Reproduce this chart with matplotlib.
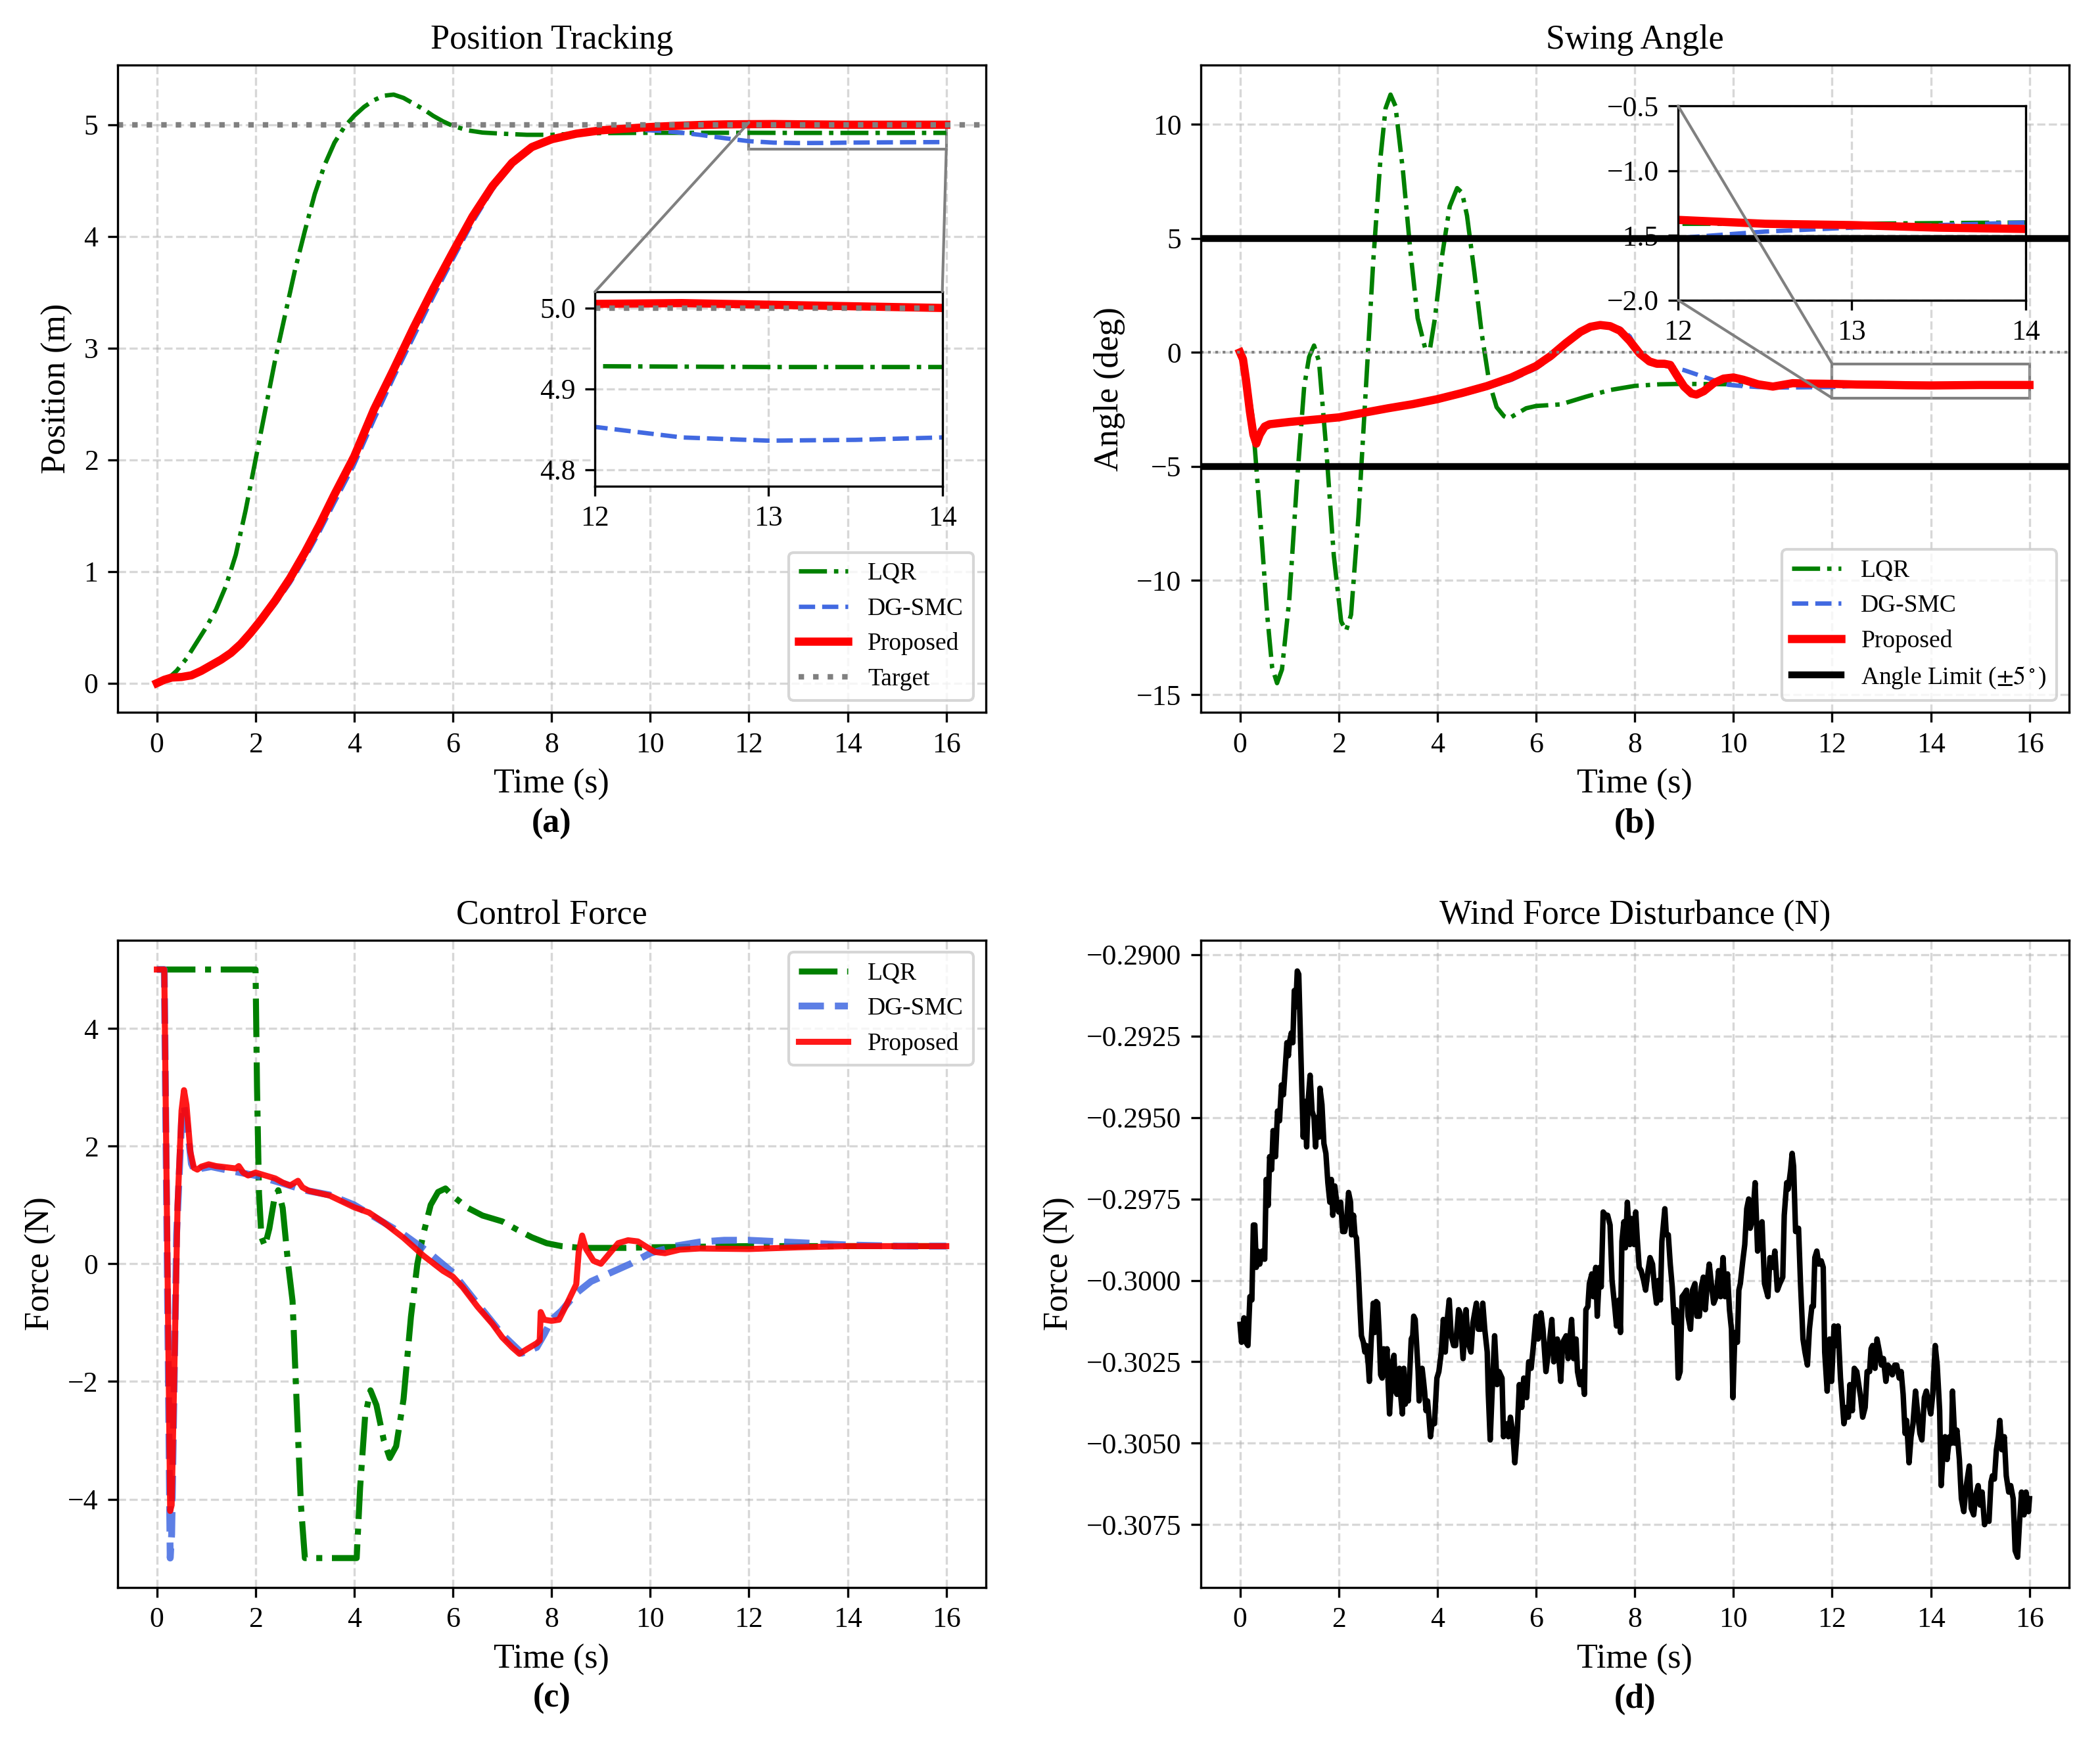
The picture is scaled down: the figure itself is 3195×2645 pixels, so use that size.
import matplotlib
matplotlib.use("Agg")
import matplotlib.pyplot as plt
from matplotlib.patches import Rectangle, ConnectionPatch
from matplotlib.ticker import FuncFormatter

plt.rcParams['font.family'] = ['Liberation Serif', 'DejaVu Serif']
plt.rcParams['mathtext.fontset'] = 'stix'
plt.rcParams['axes.unicode_minus'] = True

# ---------------- (a) Position ----------------
target = 5.0
t_pos_lqr = [0, 0.2, 0.4, 0.6, 0.8, 1.0, 1.2, 1.4, 1.6, 1.8, 2.0, 2.2, 2.4, 2.6, 2.8, 3.0, 3.2, 3.4, 3.6, 3.8,
             4.0, 4.2, 4.4, 4.6, 4.8, 5.0, 5.2, 5.4, 5.6, 5.8, 6.0, 6.3, 6.6, 7.0, 7.5, 8.0, 8.5, 9.0, 10.0, 11.0,
             12.0, 13.0, 14.0, 15.0, 16.0]
pos_lqr = [0, 0.03, 0.11, 0.22, 0.36, 0.5, 0.66, 0.87, 1.15, 1.55, 2.0, 2.45, 2.9, 3.3, 3.7, 4.05, 4.38, 4.64, 4.84, 4.98,
           5.08, 5.16, 5.22, 5.26, 5.27, 5.24, 5.19, 5.14, 5.08, 5.03, 4.99, 4.95, 4.93, 4.92, 4.91, 4.91, 4.92, 4.925, 4.928, 4.928,
           4.928, 4.927, 4.927, 4.927, 4.927]
t_pos = [0, 0.15, 0.3, 0.5, 0.7, 0.9, 1.1, 1.3, 1.5, 1.7, 1.9, 2.1, 2.4, 2.7, 3.0, 3.3, 3.6, 4.0, 4.4, 4.8, 5.2,
         5.6, 6.0, 6.4, 6.8, 7.2, 7.6, 8.0, 8.5, 9.0, 9.5, 10.0, 10.5, 11.0, 11.5, 12.0, 12.5, 13.0, 13.5, 14.0, 15.0, 16.0]
pos_prop = [0, 0.03, 0.05, 0.055, 0.07, 0.11, 0.16, 0.21, 0.27, 0.35, 0.45, 0.56, 0.74, 0.94, 1.17, 1.42, 1.69, 2.03, 2.45, 2.81, 3.18,
            3.53, 3.86, 4.18, 4.45, 4.66, 4.8, 4.87, 4.92, 4.95, 4.965, 4.98, 4.99, 4.998, 5.003, 5.005, 5.006, 5.004, 5.002, 5.0, 5.0, 5.0]
pos_dgsmc = [0, 0.03, 0.05, 0.055, 0.07, 0.11, 0.16, 0.21, 0.27, 0.34, 0.43, 0.54, 0.71, 0.9, 1.12, 1.36, 1.62, 1.96, 2.36, 2.74, 3.1,
             3.46, 3.8, 4.13, 4.42, 4.64, 4.79, 4.87, 4.92, 4.945, 4.955, 4.95, 4.935, 4.91, 4.88, 4.853, 4.84, 4.836, 4.837, 4.84, 4.843, 4.845]

# ---------------- (b) Swing angle ----------------
angle_limit = 5.0
t_ang_lqr = [0, 0.1, 0.25, 0.4, 0.55, 0.65, 0.75, 0.85, 1.0, 1.15, 1.3, 1.4, 1.5, 1.6, 1.75, 1.9, 2.05, 2.15, 2.25, 2.4,
             2.55, 2.7, 2.85, 2.95, 3.05, 3.15, 3.3, 3.45, 3.6, 3.75, 3.85, 3.95, 4.1, 4.25, 4.4, 4.5, 4.6, 4.75, 4.9, 5.05,
             5.2, 5.35, 5.45, 5.6, 5.8, 6.0, 6.5, 7.0, 7.5, 8.0, 8.5, 9.0, 10.0, 11.0, 12.0, 13.0, 14.0, 15.0, 16.0]
ang_lqr = [0, -0.6, -2.8, -7.0, -11.5, -13.8, -14.5, -13.9, -10.8, -5.8, -1.5, -0.2, 0.3, -0.4, -4.3, -8.9, -11.8, -12.2, -11.5, -7.2,
           -1.6, 4.0, 8.6, 10.7, 11.3, 10.8, 8.0, 4.5, 1.5, 0.2, 0.15, 1.5, 4.3, 6.4, 7.2, 7.0, 6.0, 3.5, 0.8, -1.3,
           -2.4, -2.8, -2.9, -2.7, -2.45, -2.35, -2.28, -1.95, -1.65, -1.47, -1.4, -1.38, -1.4, -1.42, -1.41, -1.41, -1.40, -1.40, -1.40]
t_ang_prop = [0, 0.06, 0.12, 0.2, 0.27, 0.33, 0.4, 0.5, 0.6, 0.8, 1.0, 1.5, 2.0, 2.5, 3.0, 3.5, 4.0, 4.5, 5.0, 5.5,
              6.0, 6.3, 6.6, 6.9, 7.1, 7.3, 7.5, 7.7, 7.9, 8.1, 8.3, 8.45, 8.6, 8.72, 8.85, 9.0, 9.15, 9.25, 9.4, 9.6,
              9.8, 10.0, 10.2, 10.5, 10.8, 11.2, 11.6, 12.0, 12.5, 13.0, 13.5, 14.0, 15.0, 16.0]
ang_prop = [0, -0.3, -1.2, -2.6, -3.6, -4.0, -3.6, -3.25, -3.15, -3.1, -3.05, -2.95, -2.85, -2.65, -2.45, -2.27, -2.05, -1.78, -1.48, -1.1,
            -0.6, -0.15, 0.4, 0.9, 1.12, 1.2, 1.15, 0.95, 0.5, -0.05, -0.4, -0.5, -0.5, -0.55, -1.0, -1.5, -1.8, -1.85, -1.7, -1.35,
            -1.15, -1.1, -1.2, -1.4, -1.5, -1.35, -1.37, -1.38, -1.41, -1.42, -1.44, -1.45, -1.43, -1.43]
t_ang_dg = [0, 0.06, 0.12, 0.2, 0.27, 0.33, 0.4, 0.5, 0.6, 0.8, 1.0, 1.5, 2.0, 2.5, 3.0, 3.5, 4.0, 4.5, 5.0, 5.5,
            6.0, 6.3, 6.6, 6.9, 7.1, 7.3, 7.5, 7.7, 7.9, 8.1, 8.3, 8.5, 8.7, 9.0, 9.3, 9.6, 9.9, 10.2, 10.5, 11.0,
            11.5, 12.0, 12.5, 13.0, 13.5, 14.0, 15.0, 16.0]
ang_dg = [0, -0.3, -1.2, -2.5, -3.4, -3.7, -3.4, -3.2, -3.15, -3.1, -3.05, -2.95, -2.85, -2.67, -2.48, -2.3, -2.1, -1.85, -1.55, -1.2,
          -0.7, -0.25, 0.3, 0.85, 1.1, 1.2, 1.18, 1.05, 0.7, -0.1, -0.4, -0.55, -0.62, -0.78, -1.0, -1.22, -1.42, -1.48, -1.52, -1.54,
          -1.53, -1.52, -1.47, -1.44, -1.42, -1.40, -1.40, -1.40]

# ---------------- (c) Control force ----------------
t_f_lqr = [0, 2.0, 2.03, 2.07, 2.12, 2.19, 2.28, 2.38, 2.46, 2.55, 2.66, 2.75, 2.83, 2.92, 3.0, 4.05, 4.12, 4.22, 4.33, 4.45,
           4.6, 4.72, 4.85, 5.0, 5.15, 5.28, 5.4, 5.55, 5.7, 5.85, 6.0, 6.3, 6.6, 7.0, 7.3, 7.6, 7.9, 8.2, 8.6, 9.0,
           9.5, 10.0, 11.0, 12.0, 14.0, 16.0]
f_lqr = [5.0, 5.0, 3.0, 1.2, 0.45, 0.3, 0.6, 1.1, 1.25, 0.95, 0.0, -0.63, -2.3, -4.1, -5.0, -5.0, -3.8, -2.6, -2.15, -2.4,
         -3.0, -3.3, -3.1, -2.3, -0.9, 0.0, 0.5, 1.0, 1.22, 1.28, 1.15, 0.95, 0.82, 0.72, 0.58, 0.45, 0.35, 0.3, 0.27, 0.27,
         0.27, 0.28, 0.29, 0.3, 0.3, 0.3]
t_f_dg = [0, 0.15, 0.27, 0.30, 0.4, 0.5, 0.55, 0.62, 0.7, 0.78, 0.9, 1.1, 1.5, 2.0, 2.5, 3.0, 3.5, 4.0, 4.5, 5.0,
          5.5, 6.0, 6.5, 7.0, 7.4, 7.7, 7.85, 8.0, 8.2, 8.5, 8.8, 9.2, 9.6, 10.0, 10.5, 11.0, 11.5, 12.0, 13.0, 14.0,
          15.0, 16.0]
f_dg = [5.0, 5.0, -5.0, -4.6, 0.5, 2.4, 2.7, 2.3, 1.7, 1.55, 1.62, 1.65, 1.58, 1.5, 1.38, 1.25, 1.17, 1.0, 0.75, 0.5,
        0.2, -0.15, -0.68, -1.2, -1.52, -1.42, -1.2, -0.95, -0.8, -0.5, -0.3, -0.15, 0.0, 0.18, 0.3, 0.37, 0.4, 0.4, 0.36, 0.32,
        0.3, 0.3]
t_f_prop = [0, 0.15, 0.27, 0.30, 0.42, 0.5, 0.55, 0.6, 0.68, 0.75, 0.82, 0.9, 1.05, 1.2, 1.4, 1.6, 1.66, 1.75, 1.85, 2.0,
            2.2, 2.4, 2.55, 2.7, 2.86, 2.95, 3.08, 3.5, 4.0, 4.3, 4.6, 5.0, 5.4, 5.8, 6.0, 6.2, 6.5, 6.8, 7.0, 7.2,
            7.35, 7.5, 7.7, 7.76, 7.78, 7.85, 8.0, 8.15, 8.3, 8.5, 8.55, 8.62, 8.7, 8.85, 9.0, 9.15, 9.35, 9.55, 9.75, 9.9,
            10.1, 10.3, 10.6, 11.0, 12.0, 13.0, 14.0, 16.0]
f_prop = [5.0, 5.0, -4.2, -4.1, 1.0, 2.6, 2.95, 2.7, 1.9, 1.63, 1.6, 1.65, 1.69, 1.66, 1.64, 1.62, 1.66, 1.55, 1.5, 1.55,
          1.5, 1.45, 1.38, 1.33, 1.41, 1.3, 1.24, 1.16, 0.96, 0.87, 0.7, 0.44, 0.14, -0.12, -0.22, -0.4, -0.73, -1.02, -1.25, -1.42,
          -1.53, -1.45, -1.35, -1.3, -0.82, -0.95, -0.97, -0.95, -0.7, -0.35, 0.2, 0.48, 0.25, 0.05, 0.0, 0.15, 0.35, 0.4, 0.38, 0.3,
          0.2, 0.18, 0.24, 0.26, 0.25, 0.28, 0.3, 0.3]

# ---------------- (d) Wind force disturbance ----------------
t_wind = [
    0.00, 0.03, 0.08, 0.12, 0.16, 0.20, 0.24, 0.27, 0.30, 0.33, 0.36, 0.40, 0.45, 0.50, 0.53, 0.57, 0.60, 0.64, 0.67, 0.72,
    0.76, 0.80, 0.84, 0.88, 0.91, 0.95, 0.98, 1.00, 1.04, 1.07, 1.10, 1.13, 1.16, 1.19, 1.22, 1.25, 1.28, 1.31, 1.35, 1.38,
    1.42, 1.46, 1.50, 1.53, 1.56, 1.60, 1.62, 1.66, 1.70, 1.74, 1.78, 1.82, 1.85, 1.88, 1.92, 1.96, 2.00, 2.04, 2.08, 2.12,
    2.16, 2.20, 2.24, 2.26, 2.30, 2.33, 2.36, 2.40, 2.43, 2.46, 2.50, 2.53, 2.56, 2.60, 2.62, 2.66, 2.70, 2.73, 2.76, 2.79,
    2.82, 2.85, 2.88, 2.91, 2.94, 2.98, 3.00, 3.03, 3.06, 3.09, 3.12, 3.15, 3.18, 3.21, 3.23, 3.26, 3.29, 3.32, 3.35, 3.38,
    3.41, 3.44, 3.47, 3.50, 3.52, 3.55, 3.58, 3.61, 3.63, 3.66, 3.69, 3.72, 3.74, 3.77, 3.80, 3.83, 3.86, 3.89,
    3.94, 3.99, 4.03, 4.08, 4.12, 4.16, 4.20, 4.24, 4.28, 4.33, 4.37, 4.43, 4.46, 4.52, 4.58, 4.62, 4.68, 4.72, 4.79, 4.83,
    4.88, 4.92, 4.96, 5.01, 5.03, 5.07, 5.11, 5.16, 5.21, 5.25, 5.31, 5.34, 5.40, 5.44, 5.48, 5.53, 5.57, 5.62, 5.66, 5.71,
    5.75, 5.81, 5.85, 5.90, 5.94, 6.00, 6.04, 6.10, 6.14, 6.20, 6.25, 6.32, 6.36, 6.43, 6.50, 6.54, 6.61, 6.65, 6.72, 6.76,
    6.81, 6.84, 6.89, 6.93, 6.98, 7.01, 7.05, 7.08, 7.13, 7.16, 7.21, 7.24, 7.29, 7.32, 7.36, 7.41, 7.45, 7.50, 7.54, 7.60,
    7.63, 7.68, 7.71, 7.74, 7.78, 7.81, 7.85, 7.90, 7.94, 7.99,
    8.02, 8.05, 8.09, 8.13, 8.18, 8.22, 8.27, 8.31, 8.36, 8.40, 8.44, 8.48, 8.52, 8.55, 8.61, 8.64, 8.68, 8.72, 8.76, 8.80,
    8.84, 8.88, 8.92, 8.96, 9.01, 9.05, 9.08, 9.13, 9.17, 9.22, 9.26, 9.31, 9.35, 9.39, 9.43, 9.48, 9.51, 9.56, 9.60, 9.65,
    9.70, 9.74, 9.79, 9.83, 9.88, 9.92, 9.96, 9.99, 10.03, 10.08, 10.11, 10.14, 10.19, 10.23, 10.27, 10.31, 10.34, 10.39, 10.44, 10.49,
    10.53, 10.58, 10.63, 10.70, 10.74, 10.80, 10.84, 10.89, 10.94, 11.00, 11.03, 11.08, 11.11, 11.16, 11.19, 11.22, 11.26, 11.32, 11.36, 11.41,
    11.45, 11.50, 11.54, 11.59, 11.62, 11.65, 11.69, 11.73, 11.78, 11.82, 11.85, 11.90,
    11.95, 11.99, 12.04, 12.08, 12.12, 12.17, 12.21, 12.24, 12.29, 12.33, 12.36, 12.41, 12.45, 12.50, 12.54, 12.58, 12.62, 12.67, 12.71, 12.76,
    12.79, 12.82, 12.87, 12.91, 12.96, 13.00, 13.04, 13.09, 13.13, 13.18, 13.22, 13.27, 13.31, 13.36, 13.40, 13.44, 13.48, 13.51, 13.56, 13.60,
    13.64, 13.69, 13.73, 13.78, 13.82, 13.87, 13.91, 13.96, 14.00, 14.04, 14.09, 14.13, 14.18, 14.21, 14.24, 14.29, 14.33, 14.38, 14.42, 14.44,
    14.49, 14.53, 14.58, 14.62, 14.67, 14.71, 14.78, 14.82, 14.87, 14.91, 14.96, 15.00, 15.04, 15.09, 15.13, 15.18, 15.22, 15.25, 15.29, 15.33,
    15.37, 15.40, 15.44, 15.49, 15.53, 15.58, 15.62, 15.67, 15.71, 15.76, 15.80, 15.84, 15.89, 15.93, 15.98, 16.00]
f_wind = [
    -0.30135, -0.3019, -0.30115, -0.3019, -0.3020, -0.3005, -0.3006, -0.2983, -0.2983, -0.2996, -0.2991, -0.2995, -0.2991, -0.29935, -0.2969, -0.2977, -0.2962, -0.2966, -0.2954, -0.2962,
    -0.2948, -0.2951, -0.2940, -0.2943, -0.2936, -0.2927, -0.2931, -0.2927, -0.2924, -0.2927, -0.2911, -0.2916, -0.2905, -0.2906, -0.2923, -0.2940, -0.2956, -0.2945, -0.2959, -0.2945,
    -0.2937, -0.2948, -0.2950, -0.2959, -0.2950, -0.2956, -0.2941, -0.2946, -0.2958, -0.2961, -0.2970, -0.2976, -0.2969, -0.2980, -0.2971, -0.2976, -0.2979, -0.2976, -0.2985, -0.2985,
    -0.2982, -0.2973, -0.2976, -0.2986, -0.2980, -0.2986, -0.2987, -0.2998, -0.3008, -0.3017, -0.3019, -0.3022, -0.3020, -0.3026, -0.3031, -0.3018, -0.3007, -0.3016, -0.30065, -0.3007,
    -0.3016, -0.3029, -0.3030, -0.3021, -0.3029, -0.3021, -0.3031, -0.3041, -0.3033, -0.3025, -0.3023, -0.3034, -0.3035, -0.3029, -0.3027, -0.3036, -0.3041, -0.3027, -0.3038, -0.3032,
    -0.3037, -0.3028, -0.3018, -0.3017, -0.3011, -0.3012, -0.3020, -0.3028, -0.3037, -0.3028, -0.3027, -0.3031, -0.3034, -0.3040, -0.3037, -0.3042, -0.3048, -0.3044,
    -0.3044, -0.3030, -0.3028, -0.3022, -0.3012, -0.3022, -0.3012, -0.3006, -0.3017, -0.3020, -0.3020, -0.3009, -0.3010, -0.3024, -0.3009, -0.3019, -0.3022, -0.3013, -0.3007, -0.3015,
    -0.3015, -0.3007, -0.3015, -0.3022, -0.3034, -0.3049, -0.3034, -0.3017, -0.3032, -0.3028, -0.3030, -0.3048, -0.3044, -0.3048, -0.3042, -0.3047, -0.3056, -0.3046, -0.3032, -0.3039,
    -0.3030, -0.3036, -0.3025, -0.3027, -0.3021, -0.3011, -0.3018, -0.3010, -0.3015, -0.3028, -0.3022, -0.3012, -0.3025, -0.3018, -0.3031, -0.3019, -0.3017, -0.3024, -0.3012, -0.3024,
    -0.3018, -0.3028, -0.3032, -0.3028, -0.3035, -0.3009, -0.3008, -0.3001, -0.2998, -0.3005, -0.2996, -0.3011, -0.2996, -0.3002, -0.2979, -0.2980, -0.2980, -0.2983, -0.3000, -0.3009,
    -0.3014, -0.3006, -0.3016, -0.2988, -0.2982, -0.2990, -0.2976, -0.2989, -0.2981, -0.2989,
    -0.2979, -0.2987, -0.2996, -0.2997, -0.3000, -0.3003, -0.2997, -0.2993, -0.2995, -0.3002, -0.3007, -0.3000, -0.3006, -0.2988, -0.2978, -0.2986, -0.2986, -0.2995, -0.3002, -0.3013,
    -0.3009, -0.3030, -0.3028, -0.3005, -0.3004, -0.3003, -0.3011, -0.3015, -0.3003, -0.3001, -0.3011, -0.3011, -0.3002, -0.2999, -0.3009, -0.2999, -0.2995, -0.3002, -0.3007, -0.3005,
    -0.2997, -0.3005, -0.2993, -0.3005, -0.2998, -0.3009, -0.3015, -0.3036, -0.3016, -0.3019, -0.3003, -0.3001, -0.2994, -0.2989, -0.2978, -0.2975, -0.2984, -0.2981, -0.2970, -0.2991,
    -0.2984, -0.2982, -0.3001, -0.3005, -0.2993, -0.2996, -0.2991, -0.3003, -0.3001, -0.2999, -0.2980, -0.2970, -0.2972, -0.2966, -0.2961, -0.2965, -0.2985, -0.2984, -0.3001, -0.3018,
    -0.3022, -0.3026, -0.3015, -0.3008, -0.3008, -0.2993, -0.2991, -0.2995, -0.2994, -0.2996, -0.3022, -0.3034,
    -0.3018, -0.3031, -0.3014, -0.3020, -0.3014, -0.3030, -0.3038, -0.3044, -0.3039, -0.3042, -0.3032, -0.3040, -0.3027, -0.3028, -0.3032, -0.3036, -0.3042, -0.3039, -0.3028, -0.3028,
    -0.3021, -0.3020, -0.3027, -0.3018, -0.3022, -0.3026, -0.3024, -0.3031, -0.3026, -0.3027, -0.3029, -0.3026, -0.3026, -0.3030, -0.3028, -0.3035, -0.3047, -0.3043, -0.3056, -0.3048,
    -0.3044, -0.3034, -0.3040, -0.3047, -0.3049, -0.3036, -0.3034, -0.3038, -0.3041, -0.3035, -0.3020, -0.3026, -0.3040, -0.3063, -0.3055, -0.3048, -0.3055, -0.3048, -0.3050, -0.3034,
    -0.3050, -0.3046, -0.3055, -0.3067, -0.3071, -0.3064, -0.3057, -0.3070, -0.3072, -0.3066, -0.3063, -0.3069, -0.3065, -0.3075, -0.3073, -0.3074, -0.3062, -0.3060, -0.3061, -0.3052,
    -0.3048, -0.3043, -0.3052, -0.3048, -0.3060, -0.3065, -0.3063, -0.3067, -0.3083, -0.3085, -0.3074, -0.3065, -0.3072, -0.3065, -0.3071, -0.3067]
wind_yticks = [-0.3075, -0.3050, -0.3025, -0.3000, -0.2975, -0.2950, -0.2925, -0.2900]

# ---------------- styling ----------------
C_LQR, C_DG, C_PR = 'green', 'royalblue', 'red'
FS_T, FS_L, FS_TK, FS_LEG = 12.5, 12.5, 10.5, 9

fig = plt.figure(figsize=(10.65, 8.8167), dpi=300)
W, H = 0.4135, 0.3725
axA = fig.add_axes([0.0559, 0.590, W, H])
axB = fig.add_axes([0.5717, 0.590, W, H])
axC = fig.add_axes([0.0559, 0.0866, W, H])
axD = fig.add_axes([0.5717, 0.0866, W, H])


def style(ax, title, ylabel, tag):
    ax.set_title(title, fontsize=FS_T)
    ax.set_xlabel('Time (s)', fontsize=FS_L)
    ax.set_ylabel(ylabel, fontsize=FS_L)
    ax.tick_params(labelsize=FS_TK)
    ax.grid(True, linestyle='--', alpha=0.5)
    ax.text(0.5, -0.172, tag, transform=ax.transAxes, ha='center', va='center',
            fontsize=FS_T, fontweight='bold')


def connect(ax, axins, pa, pb):
    con = ConnectionPatch(xyA=pa, coordsA=axins.transAxes, xyB=pb, coordsB=ax.transData,
                          color='gray', lw=1.0)
    fig.add_artist(con)


# (a)
axA.plot(t_pos_lqr, pos_lqr, color=C_LQR, ls='-.', lw=1.6, label='LQR')
axA.plot(t_pos, pos_dgsmc, color=C_DG, ls='--', lw=1.6, label='DG-SMC')
axA.plot(t_pos, pos_prop, color=C_PR, lw=3, label='Proposed')
axA.axhline(target, color='gray', ls=':', lw=2, label='Target')
style(axA, 'Position Tracking', 'Position (m)', '(a)')
axA.legend(loc='lower right', fontsize=FS_LEG)
insA = axA.inset_axes([0.55, 0.35, 0.4, 0.3])
insA.plot(t_pos_lqr, pos_lqr, color=C_LQR, ls='-.', lw=1.6)
insA.plot(t_pos, pos_dgsmc, color=C_DG, ls='--', lw=1.6)
insA.plot(t_pos, pos_prop, color=C_PR, lw=3)
insA.axhline(target, color='gray', ls=':', lw=2)
insA.set_xlim(12, 14)
insA.set_ylim(4.78, 5.02)
insA.set_xticks([12, 13, 14])
insA.set_yticks([4.8, 4.9, 5.0])
insA.yaxis.set_major_formatter(FuncFormatter(lambda v, p: f'{v:.1f}'))
insA.tick_params(labelsize=FS_TK)
insA.grid(True, linestyle='--', alpha=0.5)
axA.add_patch(Rectangle((12, 4.78), 4, 0.24, fill=False, ec='gray', lw=1.0))
connect(axA, insA, (0, 1), (12, 5.02))
connect(axA, insA, (1, 1), (16, 4.78))

# (b)
axB.plot(t_ang_lqr, ang_lqr, color=C_LQR, ls='-.', lw=1.6, label='LQR')
axB.plot(t_ang_dg, ang_dg, color=C_DG, ls='--', lw=1.6, label='DG-SMC')
axB.plot(t_ang_prop, ang_prop, color=C_PR, lw=3, label='Proposed')
axB.axhline(0, color='gray', ls=':', lw=1)
axB.axhline(angle_limit, color='black', lw=2.5, zorder=6, label=r'Angle Limit ($\pm5^\circ$)')
axB.axhline(-angle_limit, color='black', lw=2.5, zorder=6)
style(axB, 'Swing Angle', 'Angle (deg)', '(b)')
axB.legend(loc='lower right', fontsize=FS_LEG)
insB = axB.inset_axes([0.55, 0.637, 0.4, 0.3])
insB.plot(t_ang_lqr, ang_lqr, color=C_LQR, ls='-.', lw=1.6)
insB.plot(t_ang_dg, ang_dg, color=C_DG, ls='--', lw=1.6)
insB.plot(t_ang_prop, ang_prop, color=C_PR, lw=3)
insB.set_xlim(12, 14)
insB.set_ylim(-2.0, -0.5)
insB.set_xticks([12, 13, 14])
insB.set_yticks([-2.0, -1.5, -1.0, -0.5])
insB.yaxis.set_major_formatter(FuncFormatter(lambda v, p: f'{v:.1f}'.replace('-', '\u2212')))
insB.tick_params(labelsize=FS_TK)
insB.grid(True, linestyle='--', alpha=0.5)
axB.add_patch(Rectangle((12, -2.0), 4, 1.5, fill=False, ec='gray', lw=1.0))
connect(axB, insB, (0, 1), (12, -0.5))
connect(axB, insB, (0, 0), (12, -2.0))

# (c)
axC.plot(t_f_lqr, f_lqr, color=C_LQR, ls='-.', lw=2.2, label='LQR')
axC.plot(t_f_dg, f_dg, color=C_DG, ls='--', lw=2.5, alpha=0.85, label='DG-SMC')
axC.plot(t_f_prop, f_prop, color=C_PR, lw=2.2, alpha=0.9, label='Proposed')
style(axC, 'Control Force', 'Force (N)', '(c)')
axC.legend(loc='upper right', fontsize=FS_LEG)

# (d)
axD.plot(t_wind, f_wind, color='black', lw=2)
style(axD, 'Wind Force Disturbance (N)', 'Force (N)', '(d)')
axD.set_yticks(wind_yticks)
axD.yaxis.set_major_formatter(FuncFormatter(lambda v, p: f'{v:.4f}'.replace('-', '\u2212')))
axD.set_ylim(-0.30943, -0.28955)

fig.savefig('out.png', dpi=300)
